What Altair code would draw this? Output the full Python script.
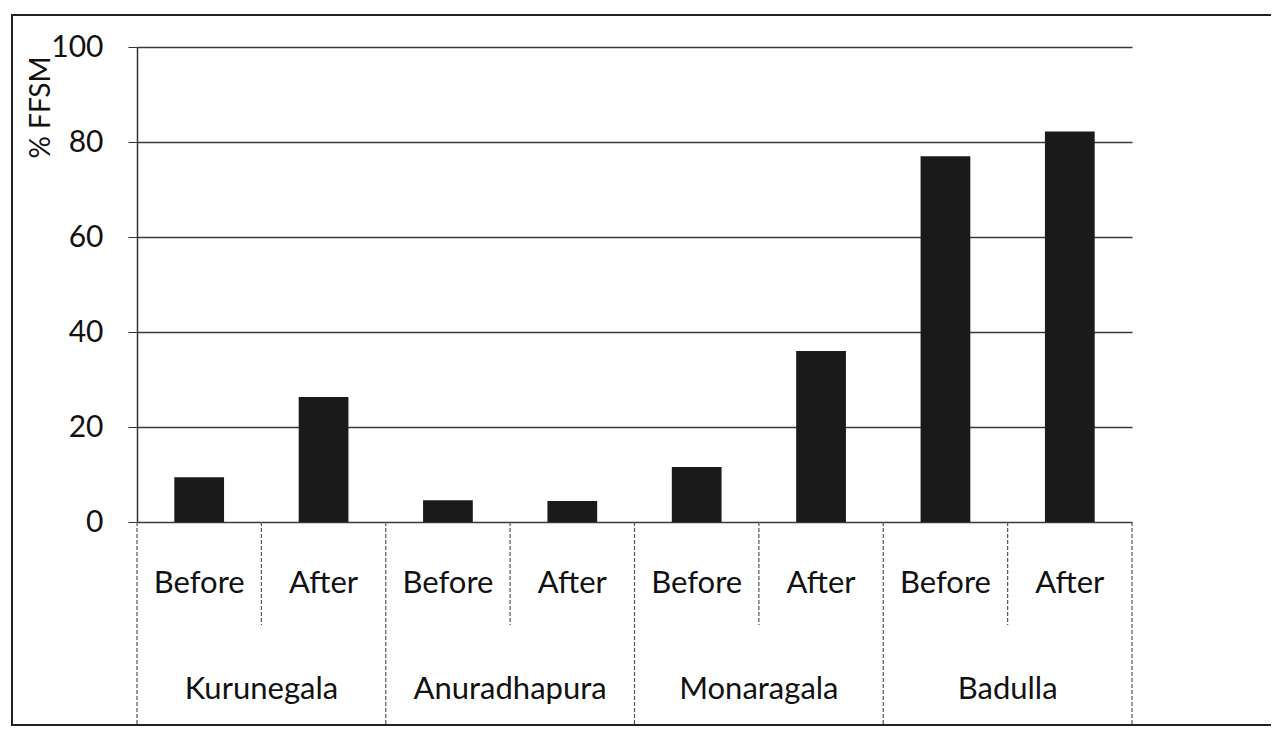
import altair as alt
import pandas as pd

districts = ["Kurunegala", "Anuradhapura", "Monaragala", "Badulla"]
periods = ["Before", "After"]
before_vals = [9.4, 4.6, 11.6, 77.0]
after_vals = [26.3, 4.4, 36.0, 82.2]
y_ticks = [0, 20, 40, 60, 80, 100]

rows = []
for d, name in enumerate(districts):
    for p, per in enumerate(periods):
        val = before_vals[d] if per == "Before" else after_vals[d]
        rows.append({"district": name, "period": per, "value": val, "idx": 2 * d + p})
df = pd.DataFrame(rows)
n = len(df)

minor = pd.DataFrame({"pos": [r["idx"] for r in rows if r["period"] == "After"]})
major = pd.DataFrame({"pos": [r["idx"] for r in rows if r["period"] == "Before"] + [n]})
one = pd.DataFrame({"k": [0]})

W, H = 995, 475
FONT = "Lato"
xscale = alt.Scale(domain=[0, n], nice=False, zero=False)
yscale = alt.Scale(domain=[0, 100], nice=False)

border = alt.Chart(one).mark_rect(fill="transparent", stroke="#222", strokeWidth=2).encode(
    x=alt.value(-125), x2=alt.value(1160), y=alt.value(-32), y2=alt.value(678)
)

bars = (
    alt.Chart(df)
    .transform_calculate(x0="datum.idx + 0.3", x1="datum.idx + 0.7")
    .mark_bar(color="#1a1a1a")
    .encode(
        x=alt.X("x0:Q", scale=xscale, axis=None),
        x2="x1:Q",
        y=alt.Y(
            "value:Q",
            scale=yscale,
            axis=alt.Axis(
                values=y_ticks,
                title="% FFSM",
                grid=True,
                gridColor="#3a3a3a",
                gridWidth=1.5,
                domainColor="#333",
                domainWidth=1.5,
                tickColor="#333",
                tickSize=9,
                labelFont=FONT,
                labelFontSize=30,
                labelColor="#111",
                labelPadding=25,
                titleFont=FONT,
                titleFontSize=28,
                titleFontWeight="normal",
                titleColor="#111",
                titleAngle=270,
                titleAlign="right",
                titleBaseline="middle",
                titleX=-96,
                titleY=9,
            ),
        ),
        y2=alt.datum(0),
    )
)

minor_rules = alt.Chart(minor).mark_rule(color="#555", strokeWidth=1.2, strokeDash=[4, 2]).encode(
    x=alt.X("pos:Q", scale=xscale, axis=None), y=alt.value(H), y2=alt.value(H + 103)
)
major_rules = alt.Chart(major).mark_rule(color="#555", strokeWidth=1.2, strokeDash=[4, 2]).encode(
    x=alt.X("pos:Q", scale=xscale, axis=None), y=alt.value(H), y2=alt.value(678)
)

period_text = (
    alt.Chart(df)
    .transform_calculate(xc="datum.idx + 0.5")
    .mark_text(font=FONT, fontSize=31, color="#111", baseline="middle")
    .encode(x=alt.X("xc:Q", scale=xscale, axis=None), y=alt.value(537), text="period:N")
)

district_text = (
    alt.Chart(df)
    .transform_calculate(xc="datum.idx + 0.5")
    .transform_aggregate(xc="mean(xc)", groupby=["district"])
    .mark_text(font=FONT, fontSize=31, color="#111", baseline="middle")
    .encode(x=alt.X("xc:Q", scale=xscale, axis=None), y=alt.value(643), text="district:N")
)

chart = (
    alt.layer(border, bars, minor_rules, major_rules, period_text, district_text)
    .properties(
        width=W,
        height=H,
        autosize=alt.AutoSizeParams(type="none"),
        padding={"left": 129, "top": 39, "right": 139, "bottom": 205},
        background="white",
    )
    .configure_view(stroke="transparent")
)

chart.save("out.html", embed_options={"renderer": "svg", "actions": False})
